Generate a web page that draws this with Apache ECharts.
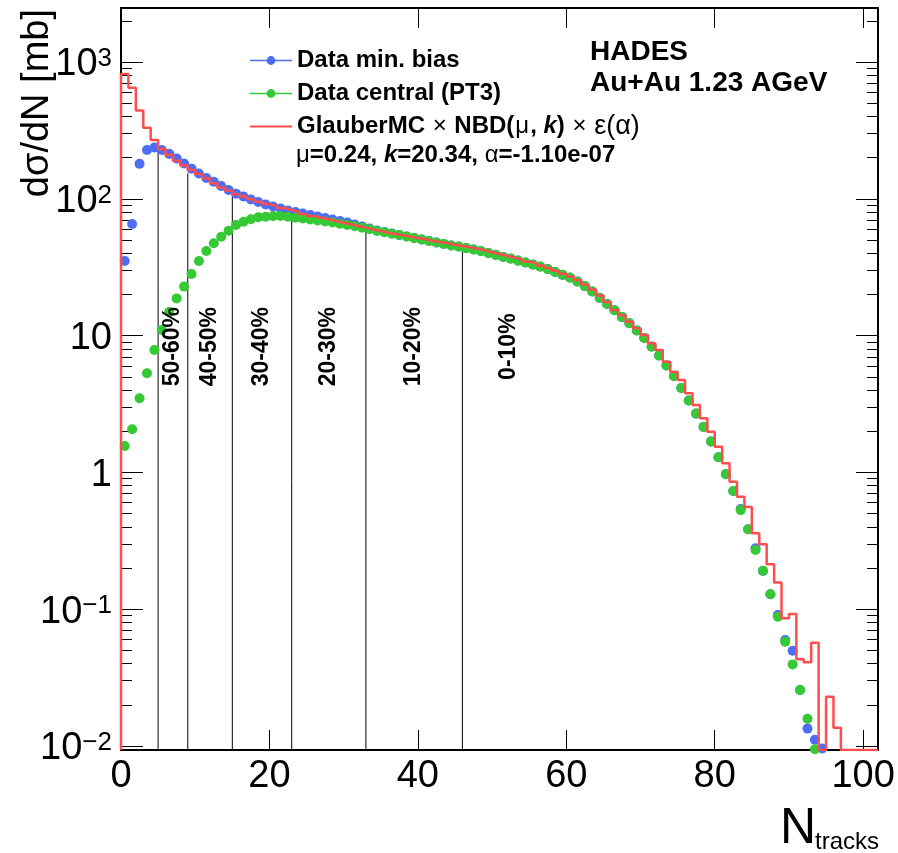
<!DOCTYPE html>
<html>
<head>
<meta charset="utf-8">
<title>HADES Au+Au 1.23 AGeV centrality</title>
<script src="https://cdn.jsdelivr.net/npm/echarts@6/dist/echarts.min.js"></script>
<style>
  html, body { margin: 0; padding: 0; background: #fff; }
  #chart { width: 898px; height: 853px; }
</style>
</head>
<body>
<div id="chart"></div>
<script>
// Track multiplicity distribution, bins of width 1 starting at N = 0.
// Data points sit at bin centres, the Glauber fit is drawn as a histogram outline.
const minBias = [
  35.1, 65.4, 180, 227, 237, 227, 213, 197, 181, 166,
  153, 142, 133, 124, 116, 109, 104, 98.8, 94.7, 90.8,
  87.8, 84.9, 82.1, 80.1, 78.1, 76.1, 74.2, 72.4, 70.6, 68.8,
  67.1, 64.9, 62.7, 60.7, 58.7, 57.2, 55.8, 54.4, 53.0, 51.7,
  50.4, 49.1, 47.9, 46.7, 45.6, 44.8, 43.7, 42.6, 41.5, 40.2,
  38.8, 37.5, 36.6, 35.4, 34.2, 33.1, 32.0, 30.7, 29.2, 27.7,
  26.6, 24.9, 23.0, 21.0, 18.8, 17.0, 15.3, 13.7, 12.3, 10.9,
  9.61, 8.33, 7.15, 6.05, 5.07, 4.14, 3.35, 2.69, 2.15, 1.68,
  1.29, 0.973, 0.731, 0.540, 0.384, 0.279, 0.190, 0.1285, 0.0908, 0.0596,
  0.0497, 0.0257, 0.0134, 0.0111, 0.0096
];

const centralPT3 = [
  1.56, 2.07, 3.48, 5.30, 7.85, 11.0, 14.9, 18.7, 22.8, 28.2,
  35.1, 41.5, 47.3, 52.8, 58.4, 64.3, 68.0, 70.8, 73.2, 74.0,
  74.8, 74.8, 74.0, 72.7, 71.8, 70.6, 69.4, 68.2, 67.1, 65.8,
  64.3, 62.9, 61.5, 59.9, 58.2, 56.9, 55.6, 54.3, 53.0, 51.6,
  50.4, 49.2, 47.9, 46.8, 45.6, 44.7, 43.6, 42.6, 41.4, 40.2,
  38.9, 37.6, 36.5, 35.3, 34.2, 33.0, 31.9, 30.6, 29.2, 27.8,
  26.5, 24.8, 23.0, 21.0, 18.9, 17.0, 15.3, 13.7, 12.3, 10.9,
  9.6, 8.3, 7.15, 6.05, 5.07, 4.14, 3.35, 2.69, 2.15, 1.68,
  1.29, 0.97, 0.73, 0.53, 0.384, 0.271, 0.191, 0.1285, 0.0881, 0.0578,
  0.0395, 0.0257, 0.0158, 0.00946
];

// Glauber MC x NBD fit, one value per unit bin (0 = empty bin)
const glauberFit = [
  817, 649, 441, 331, 269, 231, 209, 190, 175, 162,
  152, 141, 130, 121, 115, 108, 104, 99.2, 95.2, 91.6,
  88.6, 85.6, 82.8, 80.1, 77.4, 74.8, 72.7, 70.8, 68.8, 66.9,
  65.1, 63.3, 61.5, 59.6, 58.2, 56.7, 55.3, 54.1, 52.8, 51.7,
  50.6, 49.4, 48.3, 47.3, 46.2, 45.2, 44.2, 43.2, 42.0, 40.7,
  39.5, 38.3, 37.2, 36.0, 34.8, 33.7, 32.5, 31.2, 29.8, 28.3,
  27.0, 25.5, 23.6, 21.7, 19.6, 17.6, 15.4, 14.1, 12.6, 11.3,
  10.1, 8.79, 7.85, 6.45, 5.45, 4.73, 3.79, 3.11, 2.49, 1.98,
  1.54, 1.165, 0.855, 0.664, 0.559, 0.359, 0.298, 0.213, 0.157, 0.0858,
  0.0922, 0.0431, 0.0409, 0.0569, 0, 0.0229, 0.0136, 0, 0, 0,
  0, 0
];

// Centrality class boundaries in N_tracks and the height each boundary line reaches
const centralityEdges = [5, 9, 15, 23, 33, 46];
const edgeHeights = [235, 153, 103.5, 78.3, 59.2, 44.2];
const centralityClasses = ['50-60%', '40-50%', '30-40%', '20-30%', '10-20%', '0-10%'];

const xTickValues = [0, 20, 40, 60, 80, 100];
const yTickValues = [0.01, 0.1, 1, 10, 100, 1000];

const legendNames = ['Data min. bias', 'Data central (PT3)', 'GlauberMC x NBD'];

// ---- layout / style constants ----
const FONT = '"Liberation Sans", Arial, Helvetica, sans-serif';
const X_MAX = 102;
const Y_MIN = 0.00935;
const Y_MAX = 2480;
const CLASS_LABEL_Y = 8.3;       // vertical centre of the rotated class labels
const LAST_CLASS_OFFSET = 6.2;   // the most central class has no upper edge drawn
const BLUE = '#4d6ef2';
const GREEN = '#35c935';
const RED = '#ff4d4d';
const TXT = 24;                  // legend / annotation text size

// minor log ticks 2..9 x 10^n inside the axis range
const yMinorValues = [];
for (let e = -3; e <= 3; e++) {
  for (let m = 2; m <= 9; m++) {
    const v = m * Math.pow(10, e);
    if (v > Y_MIN && v < Y_MAX) yMinorValues.push(+v.toPrecision(3));
  }
}

const pointsFrom = arr => arr.map((v, k) => [k + 0.5, v]);

// histogram outline: rise at the lower edge, flat top across each bin
const histOutline = [[0, Y_MIN]];
glauberFit.forEach((v, k) => {
  const h = v > 0 ? v : Y_MIN;
  histOutline.push([k, h], [k + 1, h]);
});

const edgeSeries = centralityEdges.map((x, i) => ({
  type: 'line',
  data: [[x, Y_MIN], [x, edgeHeights[i]]],
  symbol: 'none',
  silent: true,
  z: 1,
  lineStyle: { color: '#000', width: 1 },
  xAxisIndex: 0, yAxisIndex: 0
}));

const classLabelData = centralityClasses.map((name, i) => {
  const lo = centralityEdges[i];
  const hi = i + 1 < centralityEdges.length ? centralityEdges[i + 1] : lo + 2 * LAST_CLASS_OFFSET;
  return { name: name, value: [(lo + hi) / 2, CLASS_LABEL_Y] };
});

const yLabel = v => {
  const e = Math.round(Math.log10(v));
  if (e === 0) return '1';
  if (e === 1) return '10';
  return '{b|10}{sup|' + (e < 0 ? '\u2212' + (-e) : String(e)) + '}';
};

const logAxis = (position, ticks, len, showLabel) => ({
  type: 'log',
  logBase: 10,
  position: position,
  min: Y_MIN,
  max: Y_MAX,
  axisLine: { show: false, onZero: false },
  splitLine: { show: false },
  minorTick: { show: false },
  axisTick: {
    show: true, inside: true, length: len, customValues: ticks,
    lineStyle: { color: '#000', width: 1 }
  },
  axisLabel: showLabel ? {
    show: true,
    customValues: ticks,
    formatter: yLabel,
    margin: 9,
    padding: [6, 0, 0, 0],
    color: '#000',
    fontFamily: FONT,
    fontSize: 38,
    rich: {
      b: { fontFamily: FONT, fontSize: 38, color: '#000' },
      sup: { fontFamily: FONT, fontSize: 26, color: '#000', verticalAlign: 'top' }
    }
  } : { show: false, customValues: ticks }
});

const linAxis = (position, showLabel) => ({
  type: 'value',
  position: position,
  min: 0,
  max: X_MAX,
  axisLine: { show: false, onZero: false },
  splitLine: { show: false },
  axisTick: {
    show: true, inside: true, length: 20, customValues: xTickValues,
    lineStyle: { color: '#000', width: 1 }
  },
  axisLabel: showLabel ? {
    show: true, customValues: xTickValues, margin: 8,
    color: '#000', fontFamily: FONT, fontSize: 38
  } : { show: false, customValues: xTickValues }
});

const richText = {
  b: { color: '#000', fontFamily: FONT, fontSize: TXT, fontWeight: 'bold', lineHeight: 33 },
  bi: { color: '#000', fontFamily: FONT, fontSize: TXT, fontWeight: 'bold', fontStyle: 'italic', lineHeight: 33 },
  s: { color: '#000', fontFamily: FONT, fontSize: TXT, fontWeight: 'normal', lineHeight: 33, padding: [0, 1, 0, 1] },
  sg: { color: '#000', fontFamily: FONT, fontSize: 27, fontWeight: 'normal', lineHeight: 33 }
};

const chart = echarts.init(document.getElementById('chart'), null, { renderer: 'canvas' });

chart.setOption({
  animation: false,
  backgroundColor: '#fff',
  grid: {
    left: 121, right: 20, top: 8, bottom: 103,
    show: true, borderColor: '#000', borderWidth: 2,
    containLabel: false, outerBoundsMode: 'none'
  },
  xAxis: [linAxis('bottom', true), linAxis('top', false)],
  yAxis: [
    logAxis('left', yTickValues, 22, true),
    logAxis('left', yMinorValues, 11, false),
    logAxis('right', yTickValues, 22, false),
    logAxis('right', yMinorValues, 11, false)
  ],
  legend: {
    orient: 'vertical',
    left: 249,
    top: 44,
    padding: 0,
    itemWidth: 42,
    itemHeight: 11,
    itemGap: 0,
    selectedMode: false,
    data: [
      { name: legendNames[0], lineStyle: { width: 1.5, opacity: 1, color: BLUE } },
      { name: legendNames[1], lineStyle: { width: 1.5, opacity: 1, color: GREEN } },
      { name: legendNames[2], lineStyle: { width: 2, opacity: 1, color: RED }, itemStyle: { opacity: 0 } }
    ],
    formatter: name => name === legendNames[2]
      ? '{b|GlauberMC }{s|\u00d7}{b| NBD(}{s|\u03bc}{b|, }{bi|k}{b|) }{s|\u00d7}{b| }{sg|\u03b5(\u03b1)}'
      : '{b|' + name + '}',
    textStyle: {
      color: '#000', fontFamily: FONT, fontSize: TXT, fontWeight: 'bold', lineHeight: 33,
      rich: richText
    }
  },
  graphic: [
    {
      type: 'text', left: 590, top: 37, silent: true,
      style: {
        text: 'HADES\nAu+Au 1.23 AGeV', fill: '#000',
        font: 'bold 28px ' + FONT, lineHeight: 31
      }
    },
    {
      type: 'text', left: 296, top: 143, silent: true,
      style: {
        text: '{s|\u03bc}{b|=0.24, }{bi|k}{b|=20.34, }{s|\u03b1}{b|=-1.10e-07}',
        rich: {
          b: { fill: '#000', fontFamily: FONT, fontSize: TXT, fontWeight: 'bold', lineHeight: 30 },
          bi: { fill: '#000', fontFamily: FONT, fontSize: TXT, fontWeight: 'bold', fontStyle: 'italic', lineHeight: 30 },
          s: { fill: '#000', fontFamily: FONT, fontSize: TXT, lineHeight: 30 }
        }
      }
    },
    {
      type: 'text', x: 38, y: 9, rotation: Math.PI / 2, silent: true,
      style: {
        text: 'd\u03c3/dN [mb]', fill: '#000', font: '38px ' + FONT,
        textAlign: 'right', textVerticalAlign: 'middle'
      }
    },
    {
      type: 'text', x: 816, y: 854, silent: true,
      style: {
        text: 'N', fill: '#000', font: '50px ' + FONT,
        textAlign: 'right', textVerticalAlign: 'bottom'
      }
    },
    {
      type: 'text', x: 879, y: 854, silent: true,
      style: {
        text: 'tracks', fill: '#000', font: '24px ' + FONT,
        textAlign: 'right', textVerticalAlign: 'bottom'
      }
    }
  ],
  series: edgeSeries.concat([
    {
      name: legendNames[0],
      type: 'line',
      data: pointsFrom(minBias),
      symbol: 'circle', symbolSize: 10, showSymbol: true, showAllSymbol: true,
      itemStyle: { color: BLUE },
      lineStyle: { width: 0, opacity: 0 },
      z: 3, silent: true
    },
    {
      name: legendNames[1],
      type: 'line',
      data: pointsFrom(centralPT3),
      symbol: 'circle', symbolSize: 10, showSymbol: true, showAllSymbol: true,
      itemStyle: { color: GREEN },
      lineStyle: { width: 0, opacity: 0 },
      z: 4, silent: true
    },
    {
      name: legendNames[2],
      type: 'line',
      data: histOutline,
      symbol: 'none',
      itemStyle: { color: RED },
      lineStyle: { color: RED, width: 2.5 },
      z: 5, silent: true
    },
    {
      type: 'scatter',
      data: classLabelData,
      symbolSize: 0,
      silent: true,
      z: 6,
      itemStyle: { opacity: 1 },
      label: {
        show: true, position: 'inside', rotate: 90, opacity: 1,
        formatter: p => p.name,
        color: '#000', textBorderWidth: 0,
        fontFamily: FONT, fontSize: 23, fontWeight: 'bold'
      }
    }
  ])
});
</script>
</body>
</html>
